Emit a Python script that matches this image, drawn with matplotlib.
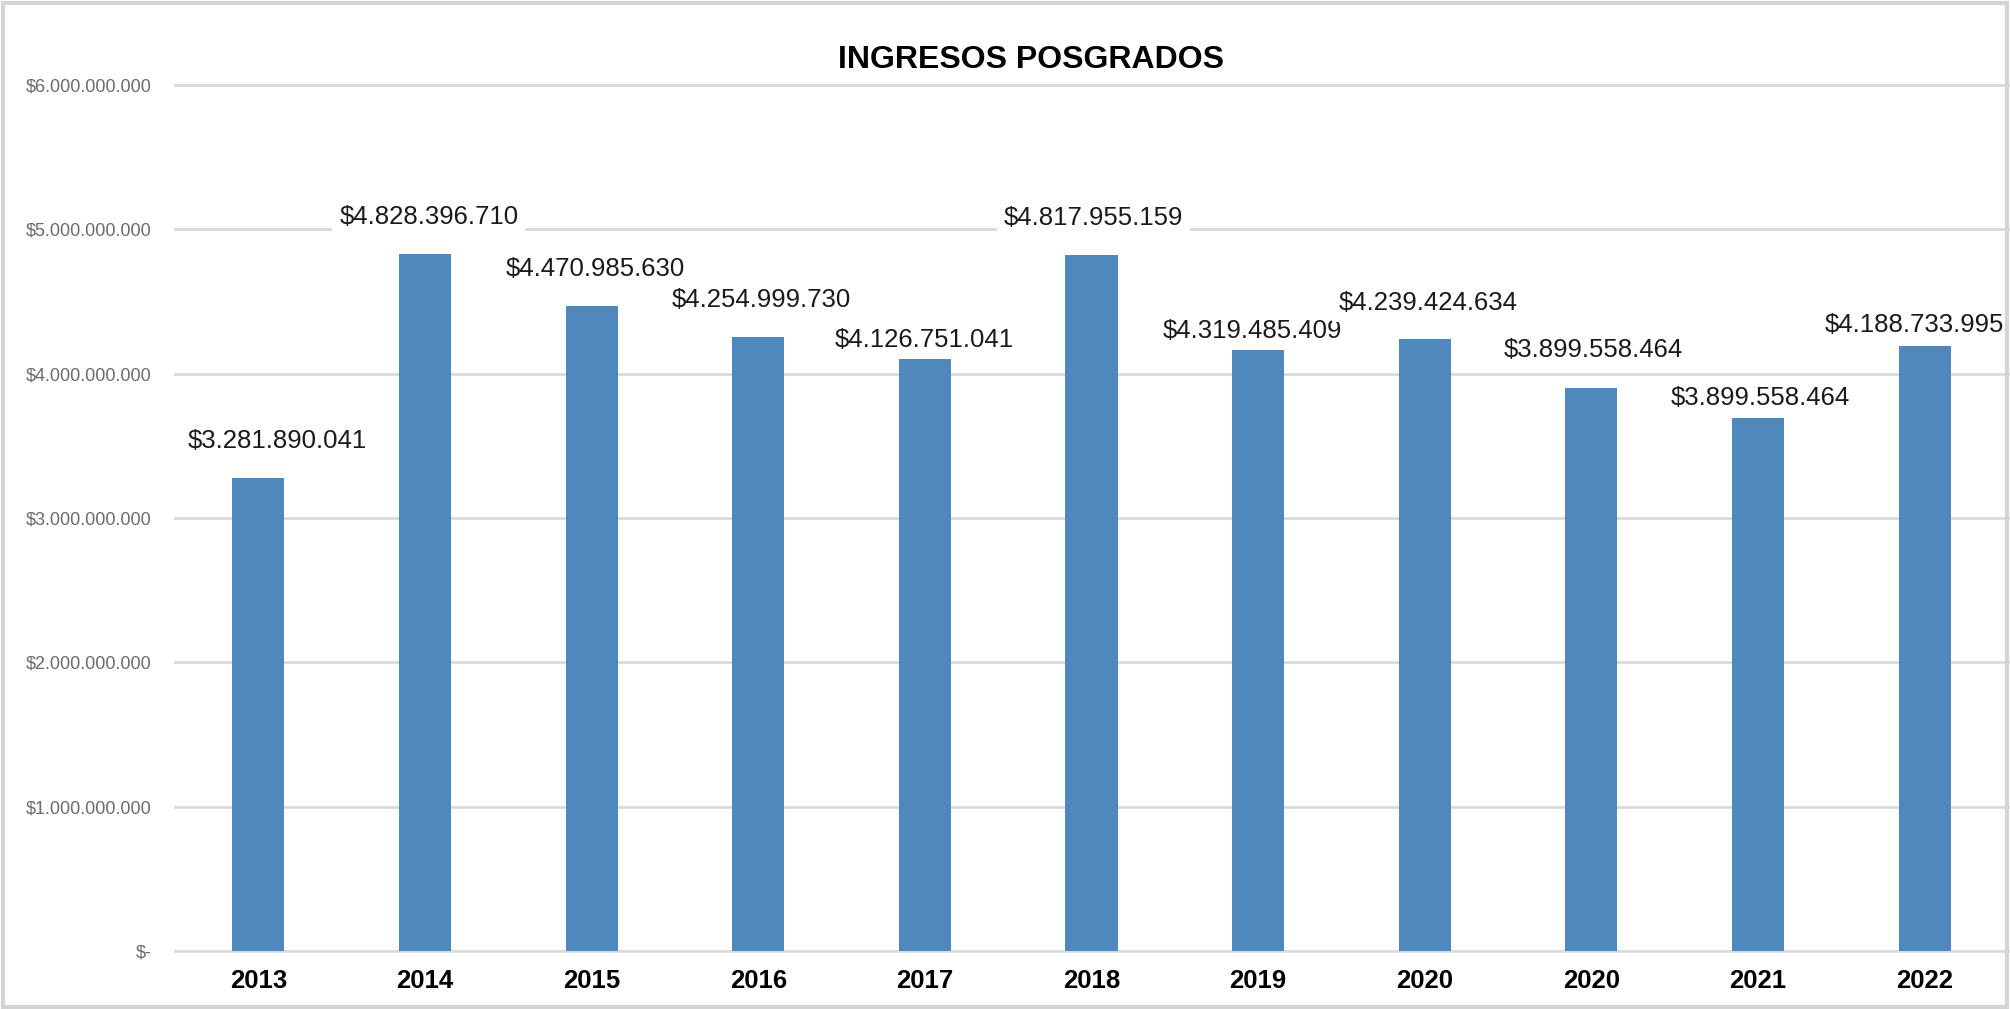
import matplotlib
matplotlib.use("Agg")
import matplotlib.pyplot as plt
from matplotlib.ticker import FuncFormatter, MultipleLocator
from matplotlib.patches import Rectangle

# ---- data ----
years = ['2013', '2014', '2015', '2016', '2017', '2018', '2019', '2020', '2020', '2021', '2022']
bar_values = [3.28e9, 4.83e9, 4.47e9, 4.255e9, 4.115e9, 4.825e9, 4.162e9, 4.24e9, 3.90e9, 3.69e9, 4.19e9]
value_labels = ['$3.281.890.041', '$4.828.396.710', '$4.470.985.630', '$4.254.999.730',
                '$4.126.751.041', '$4.817.955.159', '$4.319.485.409', '$4.239.424.634',
                '$3.899.558.464', '$3.899.558.464', '$4.188.733.995']
title = 'INGRESOS POSGRADOS'

# ---- layout of the (manually placed) data labels ----
label_dx = [0.115, 0.024, 0.021, 0.016, -0.003, 0.011, -0.037, 0.021, 0.013, 0.013, -0.059]
label_dy = [0.255e9, 0.258e9, 0.257e9, 0.252e9, 0.121e9, 0.256e9, 0.132e9, 0.251e9, 0.262e9, 0.139e9, 0.15e9]

NARROW = ['Liberation Sans Narrow', 'Liberation Sans', 'DejaVu Sans']
REG = ['Liberation Sans', 'DejaVu Sans']

fig = plt.figure(figsize=(20.10, 10.09), dpi=100)
ax = fig.add_axes([175 / 2010, 1 - 951 / 1009, (2008 - 175) / 2010, (951 - 85) / 1009])

x = list(range(len(years)))
ax.bar(x, bar_values, width=0.313, color='#4f88bd', zorder=2)
ax.set_xlim(-0.5, len(years) - 0.5)
ax.set_ylim(0, 6e9)
ax.yaxis.set_major_locator(MultipleLocator(1e9))


def money(v, pos):
    if abs(v) < 1:
        return '$-'
    return '$' + f'{int(round(v)):,}'.replace(',', '.')


ax.yaxis.set_major_formatter(FuncFormatter(money))
ax.set_xticks(x)
ax.set_xticklabels(years)

for s in ax.spines.values():
    s.set_visible(False)
ax.tick_params(axis='both', length=0)
ax.tick_params(axis='y', pad=17, labelcolor='#6b6b6b')
ax.tick_params(axis='x', pad=13)
for t in ax.get_yticklabels():
    t.set_fontfamily(NARROW)
    t.set_fontsize(13)
for t in ax.get_xticklabels():
    t.set_fontfamily(REG)
    t.set_fontsize(18.5)
    t.set_fontweight('bold')
    t.set_color('black')

ax.yaxis.grid(True, color='#d9d9d9', linewidth=2.0, zorder=0)
ax.set_axisbelow(True)
for gl in ax.get_ygridlines():
    gl.set_clip_on(False)

for i, (v, lab) in enumerate(zip(bar_values, value_labels)):
    ax.text(i + label_dx[i], v + label_dy[i], lab, ha='center', va='center',
            fontsize=18.5, family=NARROW, color='#1a1a1a', zorder=4,
            bbox=dict(facecolor='white', edgecolor='none', pad=5))

fig.text(1031 / 2010, 1 - 60 / 1009, title, ha='center', va='center',
         fontsize=23, fontweight='bold', family=NARROW, color='black')

fig.patches.append(Rectangle((0.0015, 0.002), 0.997, 0.995, transform=fig.transFigure,
                             fill=False, edgecolor='#d4d4d4', linewidth=3))

fig.savefig('out.png', dpi=100)
